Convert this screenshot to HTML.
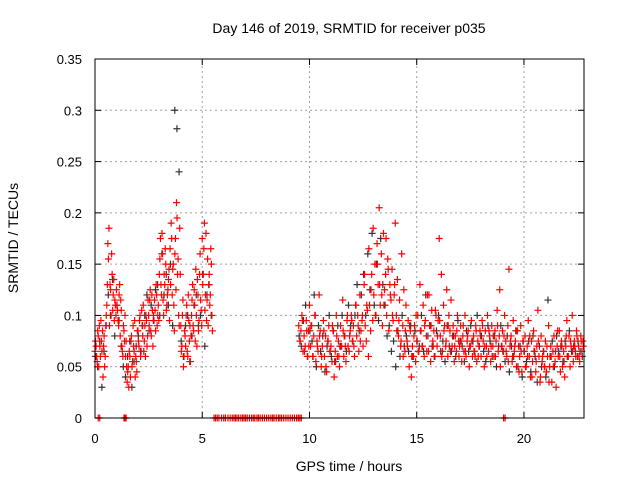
<!DOCTYPE html>
<html><head><meta charset="utf-8"><style>
body{margin:0;background:#fff;}
svg{display:block;font-family:"Liberation Sans",sans-serif;}
</style></head><body>
<svg id="chart" width="640" height="480" viewBox="0 0 640 480">
<rect x="0" y="0" width="640" height="480" fill="#fff"/>
<text x="349" y="33" font-size="14" text-anchor="middle">Day 146 of 2019, SRMTID for receiver p035</text>
<text x="349" y="471" font-size="14" text-anchor="middle">GPS time / hours</text>
<text x="0" y="0" font-size="14" text-anchor="middle" transform="translate(18,238) rotate(-90)">SRMTID / TECUs</text>
<g id="grid"></g><g id="ticks"></g><g id="marks"></g>
<rect x="95" y="59" width="489" height="359" fill="none" stroke="#000" stroke-width="1"/>
</svg>
<script>
const xTicks=[0,5,10,15,20];
const yTicks=[0,0.05,0.1,0.15,0.2,0.25,0.3,0.35];
const yTickLabels=["0","0.05","0.1","0.15","0.2","0.25","0.3","0.35"];
const sampleStep=0.05;
const redAStart=0.0;
const redA=[.065,.07,.055,.08,.09,.06,.075,.085,.07,.05,
.09,.11,.17,.185,.13,.1,.14,.12,.095,.11,
.125,.105,.09,.13,.115,.07,.06,.085,.1,.075,
.035,.05,.065,.04,.08,.055,.07,.095,.06,.045,
.085,.07,.1,.065,.09,.11,.075,.06,.095,.08,
.1,.115,.085,.12,.07,.095,.105,.13,.09,.11,
.14,.175,.12,.16,.1,.13,.15,.11,.125,.145,
.165,.19,.12,.15,.085,.175,.21,.14,.1,.185,
.09,.07,.115,.06,.08,.1,.065,.12,.075,.055,
.1,.13,.085,.11,.145,.07,.12,.095,.16,.105,
.175,.14,.19,.12,.095,.155,.13,.11,.165,.1];
const redA2Start=0.025;
const redA2=[.075,.06,.085,.05,.07,.095,.065,.04,.08,.06,
.1,.13,.155,.09,.125,.16,.105,.135,.115,.1,
.11,.095,.12,.08,.105,.065,.09,.075,.06,.05,
.045,.03,.06,.075,.05,.09,.065,.04,.055,.085,
.075,.095,.06,.105,.08,.065,.09,.1,.07,.115,
.09,.125,.08,.105,.1,.115,.085,.12,.1,.095,
.155,.13,.18,.115,.14,.165,.105,.12,.135,.095,
.13,.175,.145,.11,.16,.125,.195,.155,.09,.14,
.065,.1,.05,.085,.07,.11,.06,.095,.09,.08,
.115,.09,.125,.075,.1,.135,.085,.14,.115,.09,
.13,.165,.105,.18,.115,.09,.14,.12,.15,.085];
const redBStart=9.5;
const redB=[.09,.075,.085,.1,.065,.08,.07,.095,.06,.085,
.11,.07,.09,.06,.08,.1,.055,.075,.065,.12,.085,.05,.07,.095,.06,.08,.045,.075,.09,.065,
.07,.055,.085,.04,.065,.1,.06,.075,.05,.09,.07,.115,.06,.08,.055,.095,.07,.065,.085,.1,
.075,.09,.06,.11,.08,.1,.065,.12,.085,.095,.07,.13,.09,.075,.105,.06,.11,.085,.14,.095,
.12,.15,.1,.17,.13,.205,.11,.16,.09,.18,.125,.14,.1,.155,.085,.13,.115,.145,.095,.12,
.19,.1,.135,.08,.115,.07,.16,.09,.125,.065,.11,.075,.095,.05,.085,.04,.07,.06,.09,.055,
.075,.1,.065,.13,.085,.07,.11,.06,.095,.08,.12,.065,.09,.055,.105,.075,.085,.06,.1,.07,
.095,.175,.08,.14,.065,.11,.09,.07,.125,.06,.1,.085,.115,.07,.09,.055,.08,.065,.1,.075,
.07,.09,.055,.08,.065,.1,.06,.075,.085,.05,.07,.095,.06,.08,.065,.09,.055,.075,.07,.085,
.06,.095,.075,.05,.085,.07,.1,.065,.08,.055,.09,.07,.06,.085,.075,.105,.065,.08,.05,.07,
.085,.065,.1,.075,.06,.09,.145,.07,.08,.055,.095,.065,.075,.05,.085,.07,.06,.09,.045,.075,
.065,.08,.05,.07,.095,.06,.04,.075,.055,.085,.065,.045,.07,.105,.06,.035,.08,.055,.065,.05,
.075,.045,.06,.09,.05,.07,.035,.065,.08,.055,.03,.07,.06,.085,.045,.075,.05,.065,.04,.07,
.095,.06,.08,.05,.07,.1,.055,.075,.065,.085,.06,.07,.055,.08,.065,.075];
const redB2Start=9.57;
const redB2Step=0.1;
const redB2=[.075,.095,.065,.085,.07,.09,.06,.1,.07,.08,
.06,.085,.05,.075,.065,.09,.055,.08,.06,.07,
.085,.07,.1,.08,.095,.07,.11,.09,.075,.1,
.14,.11,.165,.125,.185,.1,.15,.13,.12,.11,
.175,.145,.12,.1,.13,.085,.095,.075,.06,.085,
.07,.09,.06,.08,.1,.065,.085,.07,.09,.065,
.12,.09,.07,.105,.08,.095,.06,.085,.075,.09,
.065,.08,.07,.085,.06,.075,.09,.065,.08,.07,
.075,.065,.085,.06,.08,.09,.07,.06,.085,.07,
.08,.06,.09,.125,.07,.08,.065,.055,.075,.06,
.07,.085,.045,.065,.075,.05,.06,.08,.04,.065,
.055,.075,.04,.06,.05,.07,.035,.06,.05,.065,
.085,.06,.07,.055,.08,.06,.075,.065,.07,.08,
.06,.075,.07];
const redZeroTimes=[0.15,0.22,1.35,1.4,1.45,5.55,5.62,5.7,5.78,5.9,6.0,6.08,6.2,6.3,6.4,6.48,6.55,6.62,6.7,6.8,6.88,6.95,7.02,7.1,7.2,7.3,7.38,7.45,7.55,7.62,7.7,7.8,7.9,8.0,8.1,8.2,8.28,8.35,8.45,8.55,8.62,8.7,8.8,8.9,9.0,9.1,9.2,9.3,9.4,9.48,9.55,9.62,19.05,19.12];
const blackStep=0.1;
const blackAStart=0.02;
const blackA=[.06,.05,.075,.03,.065,.09,.12,.1,.135,.08,.11,.095,.07,.05,.04,.06,.075,.03,.055,.07,.08,.065,.09,.1,.12,.085,.11,.095,.125,.13,.1,.16,.12,.14,.11,.15,.09,.3,.282,.24,.075,.06,.09,.1,.055,.08,.11,.12,.09,.1,.14,.07,.12,.13,.1];
const blackBStart=9.52;
const blackB=[.08,.07,.095,.11,.06,.085,.075,.12,.05,.09,.065,.08,.045,.07,.1,.06,.085,.055,.09,.07,
.1,.08,.065,.11,.09,.075,.1,.13,.085,.12,.14,.1,.16,.125,.18,.11,.15,.095,.175,.13,
.11,.08,.09,.065,.075,.05,.085,.06,.1,.07,.08,.065,.09,.06,.085,.075,.07,.1,.065,.12,
.08,.09,.07,.06,.085,.1,.065,.075,.055,.09,.07,.065,.08,.06,.095,.075,.07,.055,.085,.065,
.09,.075,.06,.1,.07,.08,.065,.055,.09,.075,.06,.08,.05,.07,.09,.065,.055,.08,.045,.07,
.06,.085,.05,.07,.04,.065,.055,.075,.045,.08,.06,.035,.07,.05,.065,.04,.115,.06,.075,.05,
.08,.065,.07,.055,.075,.06,.085,.065,.07,.06,.075,.065,.06];
const X0=95,X1=584,XMAX=22.8,Y0=418,Y1=59,YMAX=0.35;
const NS="http://www.w3.org/2000/svg";
function xs(v){return X0+(v/XMAX)*(X1-X0);}
function ys(v){return Y0-(v/YMAX)*(Y0-Y1);}
const grid=document.getElementById('grid'),ticks=document.getElementById('ticks'),marks=document.getElementById('marks');
function mk(tag,attrs,parent){const e=document.createElementNS(NS,tag);for(const k in attrs)e.setAttribute(k,attrs[k]);parent.appendChild(e);return e;}
xTicks.forEach(function(t,i){
  const x=xs(t);
  if(t>0){const g=mk('line',{x1:x,y1:Y0,x2:x,y2:Y1,stroke:'#a0a0a0','stroke-dasharray':'2,3'},grid);
  
  }
  mk('line',{x1:x,y1:Y0,x2:x,y2:Y0-6,stroke:'#000'},ticks);
  mk('line',{x1:x,y1:Y1,x2:x,y2:Y1+6,stroke:'#000'},ticks);
  const l=mk('text',{x:x,y:443,'font-size':13,'text-anchor':'middle'},ticks);l.textContent=String(t);
  
  
});
yTicks.forEach(function(t,i){
  const y=ys(t);
  if(t>0&&t<YMAX){const g=mk('line',{x1:X0,y1:y,x2:X1,y2:y,stroke:'#a0a0a0','stroke-dasharray':'2,3'},grid);
  
  }
  mk('line',{x1:X0,y1:y,x2:X0+6,y2:y,stroke:'#000'},ticks);
  mk('line',{x1:X1,y1:y,x2:X1-6,y2:y,stroke:'#000'},ticks);
  const l=mk('text',{x:82,y:y+5,'font-size':13,'text-anchor':'end'},ticks);l.textContent=yTickLabels[i];
  
  
});
function plus(t,v,color,name){
  const x=xs(t),y=ys(v);
  const p=mk('path',{d:'M'+(x-3.5)+' '+y+'H'+(x+3.5)+'M'+x+' '+(y-3.5)+'V'+(y+3.5),stroke:color,'stroke-width':1.2,fill:'none'},marks);
  
  
}
blackA.forEach(function(v,i){plus(blackAStart+i*blackStep,v,'#333','black-point');});
blackB.forEach(function(v,i){plus(blackBStart+i*blackStep,v,'#333','black-point');});
redA.forEach(function(v,i){plus(redAStart+i*sampleStep,v,'#f00','red-point');});
redA2.forEach(function(v,i){plus(redA2Start+i*sampleStep,v,'#f00','red-point');});
redB.forEach(function(v,i){plus(redBStart+i*sampleStep,v,'#f00','red-point');});
redB2.forEach(function(v,i){plus(redB2Start+i*redB2Step,v,'#f00','red-point');});
redZeroTimes.forEach(function(t){plus(t,0,'#f00','red-zero-point');});
</script>
</body></html>
